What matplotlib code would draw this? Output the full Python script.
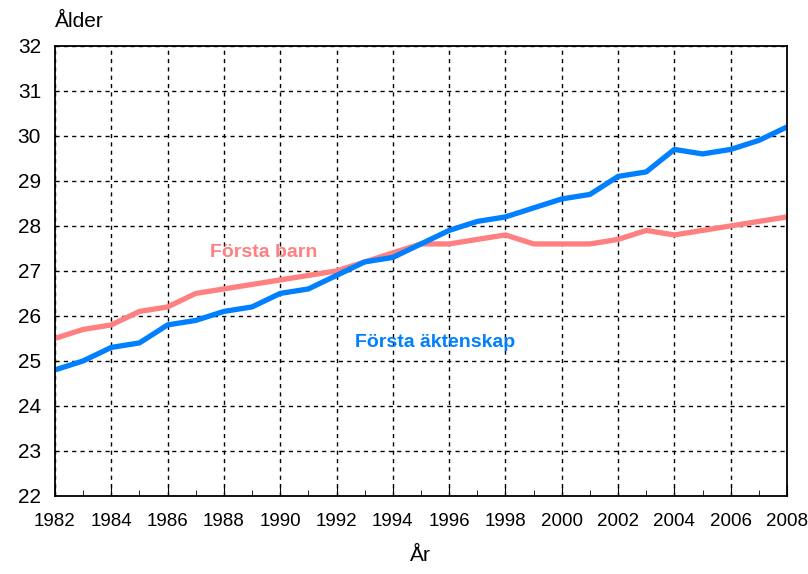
import matplotlib
matplotlib.use("Agg")
import matplotlib.pyplot as plt
import numpy as np

years = np.arange(1982, 2009)
forsta_barn = [25.5, 25.7, 25.8, 26.1, 26.2, 26.5, 26.6, 26.7, 26.8, 26.9,
               27.0, 27.2, 27.4, 27.6, 27.6, 27.7, 27.8, 27.6, 27.6, 27.6,
               27.7, 27.9, 27.8, 27.9, 28.0, 28.1, 28.2]
forsta_aktenskap = [24.8, 25.0, 25.3, 25.4, 25.8, 25.9, 26.1, 26.2, 26.5, 26.6,
                    26.9, 27.2, 27.3, 27.6, 27.9, 28.1, 28.2, 28.4, 28.6, 28.7,
                    29.1, 29.2, 29.7, 29.6, 29.7, 29.9, 30.2]

plt.rcParams['font.family'] = ['Liberation Sans', 'DejaVu Sans']

fig = plt.figure(figsize=(8.08, 5.74), dpi=100)
ax = fig.add_axes([0.068, 0.136, 0.906, 0.784])

ax.plot(years, forsta_barn, color='#ff8080', linewidth=3.8, solid_capstyle='butt')
ax.plot(years, forsta_aktenskap, color='#0080ff', linewidth=3.8, solid_capstyle='butt')

ax.set_xlim(1982, 2008)
ax.set_ylim(22, 32)
ax.set_xticks(np.arange(1982, 2009, 2))
ax.set_xticks(np.arange(1982, 2009, 1), minor=True)
ax.set_yticks(np.arange(22, 33, 1))
ax.tick_params(axis='x', which='major', direction='in', length=8, labelsize=13.5, pad=12)
ax.tick_params(axis='x', which='minor', direction='in', length=4)
ax.tick_params(axis='y', length=0, labelsize=15, pad=10)
ax.grid(True, color='black', linestyle=(0, (3, 3)), linewidth=1)

for s in ax.spines.values():
    s.set_linewidth(1.3)

ax.text(1989.4, 27.42, "Första barn", color='#ff8080', fontsize=14,
        fontweight='bold', ha='center', va='center')
ax.text(1995.5, 25.4, "Första äktenskap", color='#0080ff', fontsize=14,
        fontweight='bold', ha='center', va='center')

fig.text(0.068, 0.963, "Ålder", fontsize=15, ha='left', va='center')
fig.text(0.52, 0.033, "År", fontsize=15, ha='center', va='center')

fig.savefig("out.png", dpi=100)
